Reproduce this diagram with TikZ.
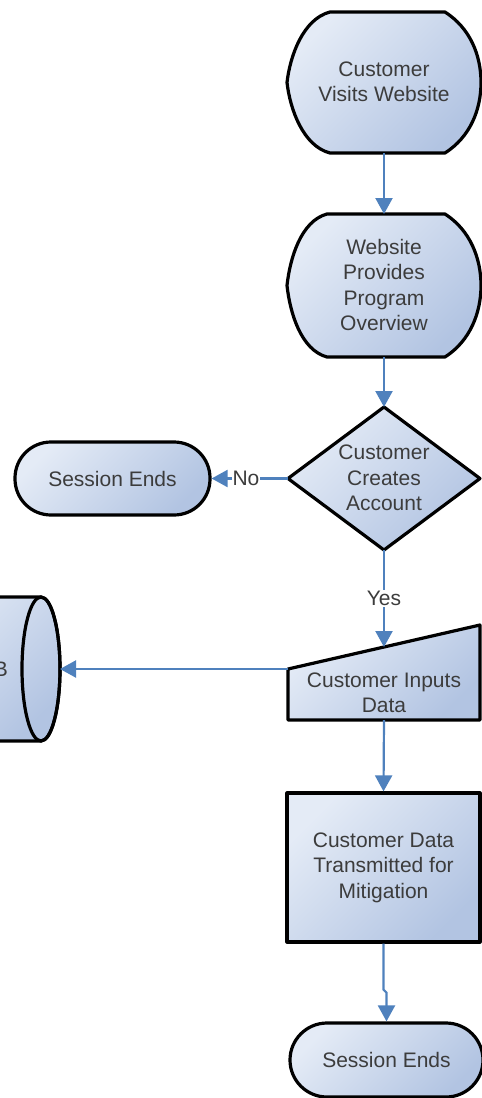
\documentclass[tikz,border=0pt]{standalone}
\usepackage{fontspec}
\setmainfont{Liberation Sans}
\usetikzlibrary{arrows.meta}
\definecolor{connc}{HTML}{4F81BD}
\definecolor{fillA}{HTML}{E4EBF6}
\definecolor{fillB}{HTML}{B2C4E2}
\definecolor{txt}{HTML}{3C3C3C}
\begin{document}
\begin{tikzpicture}[x=1pt,y=-1pt,
  shapefill/.style={top color=fillA,bottom color=fillB,shading angle=45},
  outline/.style={draw=black,line width=3.2pt,line join=round},
  lbl/.style={text=txt,font=\fontsize{21}{25.5}\selectfont,align=center,inner sep=0pt},
  box/.style={inner sep=0pt,outer sep=0pt},
  conn/.style={draw=connc,line width=2.2pt,-{Triangle[length=16pt,width=17pt]}},
  cl/.style={fill=white,text=txt,font=\fontsize{21}{25.5}\selectfont,inner sep=1pt}]
\useasboundingbox (0,0) rectangle (482,1098);
\clip (0,0) rectangle (482,1098);

% Customer Visits Website (display shape)
\path[outline,shapefill] (330,12) -- (445,12) .. controls (470,28) and (481,55) .. (481,82.5)
  .. controls (481,110) and (470,137) .. (445,153) -- (330,153)
  .. controls (303,146) and (290,109) .. (287,82.5)
  .. controls (290,56) and (303,19) .. (330,12) -- cycle;
\node[box,minimum width=194pt,minimum height=141pt] (vis) at (384,82.5) {};
\node[lbl] (vistext) at (384,82) {Customer\\Visits Website};

% Website Provides Program Overview (display shape)
\path[outline,shapefill] (327,214) -- (445,214) .. controls (470,230) and (481,258) .. (481,285.5)
  .. controls (481,313) and (470,341) .. (445,357) -- (327,357)
  .. controls (301,350) and (290,313) .. (287,285.5)
  .. controls (290,258) and (301,221) .. (327,214) -- cycle;
\node[box,minimum width=194pt,minimum height=143pt] (web) at (384,285.5) {};
\node[lbl] (webtext) at (384,285) {Website\\Provides\\Program\\Overview};

% Decision diamond
\node[box,minimum width=192pt,minimum height=143pt] (dec) at (384,478.5) {};
\path[outline,shapefill] (dec.north) -- (dec.east) -- (dec.south) -- (dec.west) -- cycle;
\node[lbl] (dectext) at (384,478) {Customer\\Creates\\Account};

% Session Ends (left)
\node[outline,shapefill,rounded corners=36pt,minimum width=195pt,minimum height=73pt,lbl] (se1) at (112.5,478.5) {Session Ends};

% Manual input
\node[box,minimum width=192pt,minimum height=95pt] (mi) at (384,672.5) {};
\path[outline,shapefill] (288,669) -- (480,625) -- (480,720) -- (288,720) -- cycle;
\coordinate (miTop) at (384,647);
\coordinate (miLeft) at (288,669);
\node[lbl] (mitext) at (384,693) {Customer Inputs\\Data};

% DB (direct access storage, cut off at left)
\path[outline,shapefill] (-100,597) -- (41,597) arc[start angle=-90,end angle=90,x radius=19,y radius=72] -- (-100,741) -- cycle;
\draw[line width=3.2pt] (41,669) ellipse[x radius=19,y radius=72];
\node[box,minimum width=38pt,minimum height=144pt] (db) at (41,669) {};
\node[lbl,anchor=east] (dbtext) at (8,669) {DB};

% Process
\node[outline,shapefill,minimum width=193pt,minimum height=149pt,lbl] (pr) at (383.5,867.5) {Customer Data\\Transmitted for\\Mitigation};

% Session Ends (bottom)
\node[outline,shapefill,rounded corners=37pt,minimum width=193pt,minimum height=74pt,lbl] (se2) at (386.5,1060) {Session Ends};

% Connectors
\draw[conn] (vis.south) -- (web.north);
\draw[conn] (web.south) -- (dec.north);
\draw[conn] (dec.west) -- node[cl,pos=0.55] (nolbl) {No} (se1.east);
\draw[conn] (dec.south) -- node[cl] (yeslbl) {Yes} (miTop);
\draw[conn] (miLeft) -- (db.east);
\draw[conn] (mi.south) -- (pr.north);
\draw[conn] (pr.south) -- ++(0,46) -- ++(3,3) -- (se2.north);
\end{tikzpicture}
\end{document}
